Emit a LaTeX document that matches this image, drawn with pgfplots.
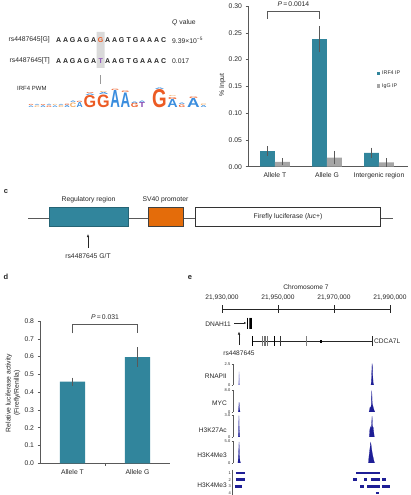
\documentclass[border=0pt]{standalone}
\usepackage{pgfplots}
\pgfplotsset{compat=1.18}
\usepackage{fontspec}
\setmainfont{Liberation Sans}
\usetikzlibrary{arrows.meta}

\definecolor{barteal}{HTML}{31859C}
\definecolor{bargray}{HTML}{A6A6A6}
\definecolor{boxorange}{HTML}{E46C0A}
\definecolor{txt}{HTML}{262626}
\definecolor{axgray}{HTML}{595959}
\definecolor{trk}{HTML}{1E1E96}
\definecolor{trklight}{HTML}{8A8AD0}
\definecolor{logoG}{HTML}{EC5B24}
\definecolor{logoA}{HTML}{3A8DDE}
\definecolor{logoT}{HTML}{8B4FB5}
\definecolor{logoC}{HTML}{F2A65A}
\definecolor{hl}{HTML}{DADADA}

\newcommand\fs[1]{\fontsize{#1}{#1}\selectfont}
\newcommand\sq[1]{\makebox[7pt]{#1}}
\newcommand\seqrow[1]{\sq{A}\sq{A}\sq{G}\sq{A}\sq{G}\sq{A}\sq{#1}\sq{A}\sq{A}\sq{G}\sq{T}\sq{G}\sq{A}\sq{A}\sq{A}\sq{C}}
% one letter of the sequence logo: colour, letter, x, base, width, height
\newcommand\lgl[6]{\node[anchor=south, inner sep=0pt, text=#1] at (axis cs:#3,#4) {\resizebox{#5pt}{#6pt}{\bfseries #2}};}

\tikzset{lab/.style={font=\fs{6.8}, text=txt, inner sep=0pt}}

\pgfplotsset{
  trackax/.style={scale only axis, width=157pt, xmin=21933.93, xmax=21990, ymin=0,
    axis y line*=left, axis x line=none,
    axis line style={-, draw=axgray, line width=0.4pt},
    ytick style={draw=axgray, line width=0.4pt},
    tick align=outside, major tick length=1.5pt,
    yticklabel style={font=\fs{4}, text=txt, inner sep=1pt},
    /pgf/number format/assume math mode=true},
  sig/.style={draw=trk, fill=trk, line width=0.2pt, mark=none},
  pk/.style={draw=trk, line width=2.6pt, mark=none},
  barax/.style={scale only axis, axis lines=left,
    axis line style={-, draw=axgray, line width=0.5pt},
    ytick style={draw=axgray, line width=0.5pt},
    xtick style={draw=none},
    tick align=outside, major tick length=2.5pt,
    tick label style={font=\fs{6.8}, text=txt},
    /pgf/number format/assume math mode=true,
    clip=false,
    every axis plot/.append style={mark=none}},
  errs/.style={error bars/.cd, y dir=both, y explicit,
    error bar style={axgray, line width=0.5pt},
    error mark options={axgray, line width=0.5pt, mark size=2pt}},
}

\begin{document}
\begin{tikzpicture}
\useasboundingbox (0,0) rectangle (410pt,495pt);

% drawing layer in page units: x to the right, y downwards
\begin{axis}[at={(0pt,0pt)}, anchor=south west, scale only axis, width=410pt, height=495pt,
  xmin=0, xmax=410, ymin=0, ymax=495, y dir=reverse, hide axis, clip=false,
  every axis plot/.append style={mark=none}]

% ---------- a: allele sequences and Q values
\addplot[fill=hl, draw=none] coordinates {(96.5,32)(104.5,32)(104.5,68)(96.5,68)(96.5,32)};
\node[lab, anchor=west] at (axis cs:172,23) {\textit{Q} value};
\node[lab, anchor=east] at (axis cs:50,40) {rs4487645[G]};
\node[lab, anchor=east] at (axis cs:50,61) {rs4487645[T]};
\node[lab, anchor=west, font=\fs{7}\bfseries] at (axis cs:55,40) {\seqrow{\textcolor{logoG}{G}}};
\node[lab, anchor=west, font=\fs{7}\bfseries] at (axis cs:55,61) {\seqrow{\textcolor{logoT}{T}}};
\node[lab, anchor=west] at (axis cs:172,40) {9.39\texttimes10\textsuperscript{−5}};
\node[lab, anchor=west] at (axis cs:172,61) {0.017};
\addplot[gray!80, line width=1pt] coordinates {(100.5,75)(100.5,84)};
\node[lab, anchor=west, font=\fs{6}] at (axis cs:17,88) {IRF4 PWM};

% IRF4 position weight matrix logo
\lgl{logoA}{A}{31}{108}{5.4}{1.5}\lgl{logoG}{G}{31}{106.0}{5}{1.1}
\lgl{logoC}{C}{37}{108}{5.4}{1.5}\lgl{logoA}{A}{37}{106.0}{5}{1.1}
\lgl{logoA}{A}{43}{108}{5.4}{1.8}\lgl{logoG}{G}{43}{105.7}{5}{1.0}
\lgl{logoG}{G}{49}{108}{5.4}{1.5}\lgl{logoA}{A}{49}{106.0}{5}{1.2}
\lgl{logoA}{A}{55}{108}{5.4}{1.6}\lgl{logoC}{C}{55}{105.9}{5}{1.1}
\lgl{logoC}{C}{61}{108}{5.4}{2.0}\lgl{logoA}{A}{61}{105.5}{5}{1.1}
\lgl{logoA}{A}{67}{108}{5.4}{2.2}\lgl{logoG}{G}{67}{105.3}{5}{1.4}
\lgl{logoC}{C}{73}{108}{6.4}{4.5}\lgl{logoA}{A}{73}{103.0}{6}{1.5}
\lgl{logoA}{A}{79.6}{108}{6.2}{5}\lgl{logoG}{G}{79.6}{102.5}{6}{1.2}
\lgl{logoG}{G}{90}{108}{12.6}{12}\lgl{logoA}{A}{90}{95.5}{10}{1.5}\lgl{logoG}{G}{90}{93.6}{8}{1}
\lgl{logoG}{G}{103.5}{108}{12.6}{12.5}\lgl{logoA}{A}{103.5}{95.0}{10}{2}\lgl{logoC}{C}{103.5}{92.6}{8}{1}
\lgl{logoA}{A}{115.2}{108}{9.6}{17}\lgl{logoG}{G}{115.2}{90.5}{8}{1.3}
\lgl{logoA}{A}{125.3}{108}{9.6}{14.5}\lgl{logoG}{G}{125.3}{93.0}{8}{1.5}
\lgl{logoG}{G}{134.6}{108}{7.6}{4.3}\lgl{logoA}{A}{134.6}{103.2}{7}{1.5}
\lgl{logoT}{T}{142}{108}{6}{5}\lgl{logoA}{A}{142}{102.5}{6}{1.5}
\lgl{logoG}{G}{159.5}{108}{14.6}{18}\lgl{logoA}{A}{159.5}{89.5}{10}{1.5}
\lgl{logoA}{A}{172.6}{108}{10.4}{8}\lgl{logoG}{G}{172.6}{99.5}{9}{2}\lgl{logoC}{C}{172.6}{97.1}{8}{1}
\lgl{logoG}{G}{182}{108}{6.6}{2.5}\lgl{logoA}{A}{182}{105.0}{6.6}{1.5}
\lgl{logoA}{A}{193.5}{108}{12.6}{9}\lgl{logoG}{G}{193.5}{98.5}{9}{1.5}
\lgl{logoA}{A}{203.6}{108}{6}{2}\lgl{logoC}{C}{203.6}{105.5}{6}{1.5}

% ---------- c: reporter construct
\node[lab, font=\fs{7.5}\bfseries] at (axis cs:6,192) {c};
\addplot[axgray, line width=0.6pt] coordinates {(28,218)(393,218)};
\addplot[fill=barteal, draw=barteal!75!black, line width=0.4pt] coordinates {(49,207.5)(128,207.5)(128,226)(49,226)(49,207.5)};
\addplot[fill=boxorange, draw=black!75, line width=0.4pt] coordinates {(148,207.5)(183,207.5)(183,226)(148,226)(148,207.5)};
\addplot[fill=white, draw=black!80, line width=0.4pt] coordinates {(195,207.5)(380,207.5)(380,226)(195,226)(195,207.5)};
\node[lab] at (axis cs:88.5,200) {Regulatory region};
\node[lab] at (axis cs:165.5,200) {SV40 promoter};
\node[lab] at (axis cs:288,217) {Firefly luciferase (\textit{luc}+)};
\addplot[black!85, line width=0.5pt, -{Latex[length=3pt,width=2.4pt]}] coordinates {(88,248)(88,234)};
\node[lab] at (axis cs:88,256) {rs4487645 G/T};

% ---------- d / e panel letters and axis titles
\node[lab, font=\fs{7.5}\bfseries] at (axis cs:6,277) {d};
\node[lab, font=\fs{7.5}\bfseries] at (axis cs:190,278) {e};
\node[lab, rotate=90, align=center, font=\fs{6.8}] at (axis cs:13,393) {Relative luciferase activity\\[1.5pt](Firefly/Renilla)};
\node[lab, rotate=90] at (axis cs:222.5,85) {\% Input};

% ---------- e: coordinate ruler and genes
\node[lab, font=\fs{6.6}] at (axis cs:306,287) {Chromosome 7};
\node[lab, font=\fs{6.6}] at (axis cs:222,298) {21,930,000};
\node[lab, font=\fs{6.6}] at (axis cs:278,298) {21,950,000};
\node[lab, font=\fs{6.6}] at (axis cs:334,298) {21,970,000};
\node[lab, font=\fs{6.6}] at (axis cs:390,298) {21,990,000};
\addplot[black!85, line width=0.6pt] coordinates {(222,309)(390,309)};
\addplot[black!85, line width=0.6pt] coordinates {(222,305)(222,313)};
\addplot[black!85, line width=0.6pt] coordinates {(278,305)(278,313)};
\addplot[black!85, line width=0.6pt] coordinates {(334,305)(334,313)};
\addplot[black!85, line width=0.6pt] coordinates {(390,305)(390,313)};

\node[lab, anchor=east, font=\fs{6.6}] at (axis cs:231,324) {DNAH11};
\addplot[black!85, line width=0.6pt, -{Latex[length=2.5pt,width=2.2pt]}] coordinates {(234,323)(246.5,323)};
\addplot[black, line width=0.8pt] coordinates {(247,317.5)(247,328.5)};
\addplot[black!70, line width=0.4pt] coordinates {(248.7,317.5)(248.7,328.5)};
\addplot[black, line width=0.8pt] coordinates {(250.3,317.5)(250.3,328.5)};
\addplot[black, line width=0.8pt] coordinates {(251.8,317.5)(251.8,328.5)};

\addplot[black!85, line width=0.6pt] coordinates {(252,341)(372,341)};
\addplot[black, line width=1pt] coordinates {(252,336)(252,346)};
\addplot[black!55, line width=0.4pt] coordinates {(262,336)(262,346)};
\addplot[black!55, line width=0.4pt] coordinates {(263.7,336)(263.7,346)};
\addplot[black!55, line width=0.4pt] coordinates {(265.4,336)(265.4,346)};
\addplot[black!55, line width=0.4pt] coordinates {(267,336)(267,346)};
\addplot[black, line width=1pt] coordinates {(274,336)(274,346)};
\addplot[black!80, line width=0.5pt] coordinates {(280,336)(280,346)};
\addplot[black!50, line width=0.4pt] coordinates {(306,336)(306,346)};
\addplot[black, line width=1pt] coordinates {(320.3,340)(321.3,340)(321.3,342)(320.3,342)(320.3,340)};
\addplot[black!85, line width=0.6pt] coordinates {(372,336)(372,346)};
\node[lab, anchor=west, font=\fs{6.6}] at (axis cs:374,341) {CDCA7L};

\addplot[black!85, line width=0.5pt, -{Latex[length=3pt,width=2.4pt]}] coordinates {(239,345)(239,331.5)};
\node[lab, font=\fs{6.6}] at (axis cs:239,353) {rs4487645};

\node[lab, anchor=east, font=\fs{6.6}] at (axis cs:227,376) {RNAPII};
\node[lab, anchor=east, font=\fs{6.6}] at (axis cs:227,403) {MYC};
\node[lab, anchor=east, font=\fs{6.6}] at (axis cs:227,430) {H3K27Ac};
\node[lab, anchor=east, font=\fs{6.6}] at (axis cs:227,455) {H3K4Me3};
\node[lab, anchor=east, font=\fs{6.6}] at (axis cs:227,485) {H3K4Me3};
\end{axis}

% ---------- b: ChIP-qPCR
\begin{axis}[barax, at={(248pt,328.3pt)}, anchor=south west,
  width=160pt, height=160.7pt,
  xmin=-0.519, xmax=2.558, ymin=0, ymax=0.30,
  ytick={0,0.05,0.10,0.15,0.20,0.25,0.30},
  yticklabel style={/pgf/number format/.cd, fixed, fixed zerofill, precision=2},
  xtick={0,1,2}, xticklabels={Allele T, Allele G, Intergenic region},
  legend style={draw=none, fill=none, at={(0.805,0.54)}, anchor=west,
    font=\fs{5.3}, text=txt, row sep=3pt, inner sep=0pt},
  legend cell align=left,
  legend image code/.code={\fill[#1] (0pt,-1.6pt) rectangle (3.2pt,1.6pt);}]
\addplot[ybar, bar shift=0pt, bar width=0.288, fill=barteal, draw=none, errs]
  coordinates {(-0.144,0.029) +- (0,0.005) (0.856,0.238) +- (0,0.021) (1.856,0.026) +- (0,0.006)};
\addlegendentry{IRF4 IP}
\addplot[ybar, bar shift=0pt, bar width=0.288, fill=bargray, draw=none, errs]
  coordinates {(0.144,0.009) +- (0,0.003) (1.144,0.017) +- (0,0.009) (2.144,0.008) +- (0,0.004)};
\addlegendentry{IgG IP}
\addplot[axgray, line width=0.6pt, forget plot]
  coordinates {(-0.144,0.276)(-0.144,0.291)(0.856,0.291)(0.856,0.276)};
\node[font=\fs{6.8}, text=txt, inner sep=0pt] at (axis cs:0.356,0.3035) {\textit{P}\,=\,0.0014};
\end{axis}

% ---------- d: luciferase reporter assay
\begin{axis}[barax, at={(40pt,31.7pt)}, anchor=south west,
  width=130pt, height=142.3pt,
  xmin=-0.5, xmax=1.5, ymin=0, ymax=0.8,
  ytick={0,0.1,0.2,0.3,0.4,0.5,0.6,0.7,0.8},
  yticklabel style={/pgf/number format/.cd, fixed, fixed zerofill, precision=1},
  xtick={0,1}, xticklabels={Allele T, Allele G},
  extra x ticks={0.5}, extra x tick labels={},
  extra x tick style={xtick style={draw=axgray, line width=0.5pt}}]
\addplot[ybar, bar shift=0pt, bar width=0.385, fill=barteal, draw=none, errs]
  coordinates {(0,0.459) +- (0,0.012) (1,0.597) +- (0,0.043)};
\addplot[axgray, line width=0.6pt]
  coordinates {(0,0.731)(0,0.781)(1,0.781)(1,0.731)};
\node[font=\fs{6.8}, text=txt, inner sep=0pt] at (axis cs:0.5,0.822) {\textit{P}\,=\,0.031};
\end{axis}

% ---------- e: ChIP-seq signal tracks
\begin{axis}[trackax, at={(233pt,110pt)}, anchor=south west, height=21pt,
  ymax=2.5, ytick={0,2.5}, yticklabels={0,2.5}]
\addplot[sig, fill=trklight, draw=trklight] coordinates {(21935.85,0)(21936.0,0.3)(21936.1,1.6)(21936.2,0.3)(21936.35,0)} \closedcycle;
\addplot[sig] coordinates {(21983.2,0)(21983.35,0.4)(21983.5,1.6)(21983.6,2.5)(21983.7,2.3)(21983.85,1.0)(21984.0,0.2)(21984.2,0)} \closedcycle;
\end{axis}

\begin{axis}[trackax, at={(233pt,83pt)}, anchor=south west, height=22pt,
  ymax=8, ytick={0,8}, yticklabels={0,8.0}]
\addplot[sig] coordinates {(21935.8,0)(21935.95,0.9)(21936.1,3.6)(21936.25,1.2)(21936.45,0)} \closedcycle;
\addplot[sig] coordinates {(21982.5,0)(21982.7,0.8)(21982.9,1.8)(21983.1,1.2)(21983.3,2.4)(21983.5,7.8)(21983.65,3.2)(21983.9,2.2)(21984.1,1.3)(21984.4,0.4)(21984.6,0)} \closedcycle;
\end{axis}

\begin{axis}[trackax, at={(233pt,58pt)}, anchor=south west, height=22pt,
  ymax=3, ytick={0,3}, yticklabels={0,3.0}]
\addplot[sig] coordinates {(21935.8,0)(21935.95,0.8)(21936.05,2.9)(21936.15,1.0)(21936.35,0)} \closedcycle;
\addplot[sig] coordinates {(21982.6,0)(21982.8,1.0)(21983.0,1.4)(21983.2,1.0)(21983.4,1.6)(21983.6,2.85)(21983.75,1.5)(21984.0,1.3)(21984.2,0.6)(21984.4,0)} \closedcycle;
\end{axis}

\begin{axis}[trackax, at={(233pt,32pt)}, anchor=south west, height=22pt,
  ymax=5, ytick={0,5}, yticklabels={0,5.0}]
\addplot[sig] coordinates {(21935.7,0)(21935.85,1.2)(21936.0,3.0)(21936.1,4.8)(21936.2,2.0)(21936.4,0.5)(21936.6,0)} \closedcycle;
\addplot[sig] coordinates {(21982.3,0)(21982.5,1.5)(21982.7,2.6)(21982.9,3.6)(21983.1,4.7)(21983.3,3.9)(21983.5,2.9)(21983.7,2.1)(21984.0,1.2)(21984.3,0.4)(21984.5,0)} \closedcycle;
\end{axis}

% ---------- e: H3K4Me3 peak calls per sample
\begin{axis}[scale only axis, at={(232pt,25.3pt)}, anchor=north west, width=158pt, height=26.8pt,
  xmin=21933.57, xmax=21990.4, ymin=0.5, ymax=4.5, y dir=reverse,
  axis y line*=left, axis x line=none,
  axis line style={-, draw=axgray, line width=0.4pt},
  ytick={1,2,3,4}, ytick style={draw=none},
  yticklabel style={font=\fs{4}, text=txt, inner sep=1pt},
  /pgf/number format/assume math mode=true]
\addplot[pk] coordinates {(21935.0,1)(21938.21,1)};
\addplot[pk] coordinates {(21978.21,1)(21986.79,1)};
\addplot[pk] coordinates {(21935.0,2)(21938.21,2)};
\addplot[pk] coordinates {(21977.14,2)(21978.57,2)};
\addplot[pk] coordinates {(21981.07,2)(21982.14,2)};
\addplot[pk] coordinates {(21983.57,2)(21986.79,2)};
\addplot[pk] coordinates {(21987.5,2)(21988.93,2)};
\addplot[pk] coordinates {(21934.64,3)(21937.14,3)};
\addplot[pk] coordinates {(21979.64,3)(21981.07,3)};
\addplot[pk] coordinates {(21982.14,3)(21986.79,3)};
\addplot[pk] coordinates {(21987.5,3)(21990.3,3)};
\addplot[pk] coordinates {(21985.36,4)(21986.43,4)};
\end{axis}
\end{tikzpicture}
\end{document}
